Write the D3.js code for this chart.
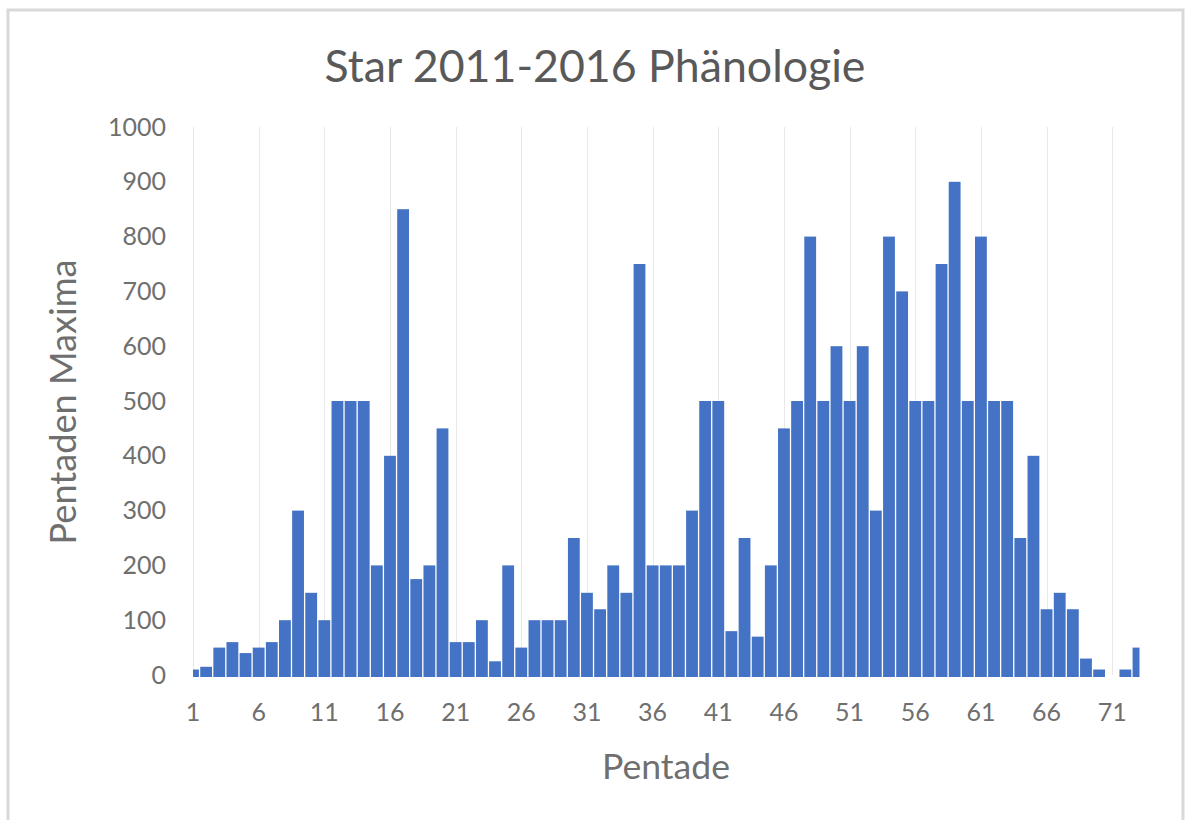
<!DOCTYPE html>
<html>
<head>
<meta charset="utf-8">
<script src="https://cdn.jsdelivr.net/npm/d3@7"></script>
<style>
  html, body { margin: 0; padding: 0; background: #ffffff; }
  svg { display: block; }
</style>
</head>
<body>
<svg id="chart" width="1189" height="820"></svg>
<script>
// ---- data ----
const titleText = "Star 2011-2016 Phänologie";
const xAxisTitle = "Pentade";
const yAxisTitle = "Pentaden Maxima";
const pentades = d3.range(1, 74);
const maxima = [
  10, 15, 50, 60, 40, 50, 60, 100, 300, 150,
  100, 500, 500, 500, 200, 400, 850, 175, 200, 450,
  60, 60, 100, 25, 200, 50, 100, 100, 100, 250,
  150, 120, 200, 150, 750, 200, 200, 200, 300, 500,
  500, 80, 250, 70, 200, 450, 500, 800, 500, 600,
  500, 600, 300, 800, 700, 500, 500, 750, 900, 500,
  800, 500, 500, 250, 400, 120, 150, 120, 30, 10,
  0, 10, 50
];
const xTickLabels = [1, 6, 11, 16, 21, 26, 31, 36, 41, 46, 51, 56, 61, 66, 71];
const yTickValues = [0, 100, 200, 300, 400, 500, 600, 700, 800, 900, 1000];

// ---- layout ----
const svg = d3.select("#chart");
const plot = { left: 193, right: 1138.5, top: 127, bottom: 675 };
const fontFamily = "Lato, 'Open Sans', 'Liberation Sans', sans-serif";

// frame
svg.append("rect")
  .attr("x", 8).attr("y", 10)
  .attr("width", 1175).attr("height", 830)
  .attr("fill", "#ffffff")
  .attr("stroke", "#d9d9d9").attr("stroke-width", 3);

// scales: categories centred on tick marks (first/last bar half clipped)
const step = (plot.right - plot.left) / (pentades.length - 1);
const x = d3.scaleBand()
  .domain(pentades)
  .range([plot.left - step / 2, plot.right + step / 2])
  .paddingInner(0.1).paddingOuter(0.05);
const xc = d => x(d) + x.bandwidth() / 2;
const y = d3.scaleLinear().domain([0, 1000]).range([plot.bottom, plot.top]);

// clip
svg.append("defs").append("clipPath").attr("id", "plotclip")
  .append("rect")
  .attr("x", plot.left).attr("y", plot.top - 2)
  .attr("width", plot.right - plot.left + 1)
  .attr("height", plot.bottom - plot.top + 4);

// vertical gridlines every 5 categories
svg.append("g").selectAll("line")
  .data(xTickLabels)
  .join("line")
  .attr("x1", d => Math.round(xc(d)) + 0.5)
  .attr("x2", d => Math.round(xc(d)) + 0.5)
  .attr("y1", y(1000))
  .attr("y2", y(0))
  .attr("stroke", "#e8e8e8")
  .attr("stroke-width", 1);

// bars
svg.append("g").attr("clip-path", "url(#plotclip)")
  .selectAll("rect")
  .data(pentades.map((p, i) => ({ p, v: maxima[i] })).filter(d => d.v > 0))
  .join("rect")
  .attr("x", d => x(d.p))
  .attr("width", x.bandwidth())
  .attr("y", d => y(d.v))
  .attr("height", d => y(0) - y(d.v) + 2)
  .attr("fill", "#4472c4");

// y axis labels
const yAxis = d3.axisLeft(y).tickValues(yTickValues).tickFormat(d3.format("d"))
  .tickSize(0).tickPadding(0);
const gy = svg.append("g").attr("transform", `translate(166,0)`).call(yAxis);
gy.select(".domain").remove();
gy.selectAll("text")
  .attr("font-family", fontFamily)
  .attr("font-size", 25)
  .attr("fill", "#6f6f6f")
  .attr("dy", "0.32em");

// x axis labels
const xAxis = d3.axisBottom(x).tickValues(xTickLabels).tickSize(0).tickPadding(0);
const gx = svg.append("g").attr("transform", `translate(0,${plot.bottom + 28})`).call(xAxis);
gx.select(".domain").remove();
gx.selectAll("text")
  .attr("font-family", fontFamily)
  .attr("font-size", 25)
  .attr("fill", "#6f6f6f")
  .attr("dy", "0.71em");

// helper: scale font size so text matches a target width
function fitWidth(sel, target) {
  const w = sel.node().getComputedTextLength();
  const fs = parseFloat(sel.attr("font-size"));
  if (w > 0) sel.attr("font-size", fs * target / w);
}

// title
const title = svg.append("text")
  .attr("x", 595).attr("y", 82)
  .attr("text-anchor", "middle")
  .attr("font-family", fontFamily)
  .attr("font-size", 40)
  .attr("fill", "#595959")
  .text(titleText);
fitWidth(title, 541);

// x axis title
const xt = svg.append("text")
  .attr("x", 666).attr("y", 779)
  .attr("text-anchor", "middle")
  .attr("font-family", fontFamily)
  .attr("font-size", 32)
  .attr("fill", "#6f6f6f")
  .text(xAxisTitle);
fitWidth(xt, 128);

// y axis title
const yt = svg.append("text")
  .attr("transform", "translate(76,402) rotate(-90)")
  .attr("text-anchor", "middle")
  .attr("font-family", fontFamily)
  .attr("font-size", 32)
  .attr("fill", "#6f6f6f")
  .text(yAxisTitle);
fitWidth(yt, 285);
</script>
</body>
</html>
